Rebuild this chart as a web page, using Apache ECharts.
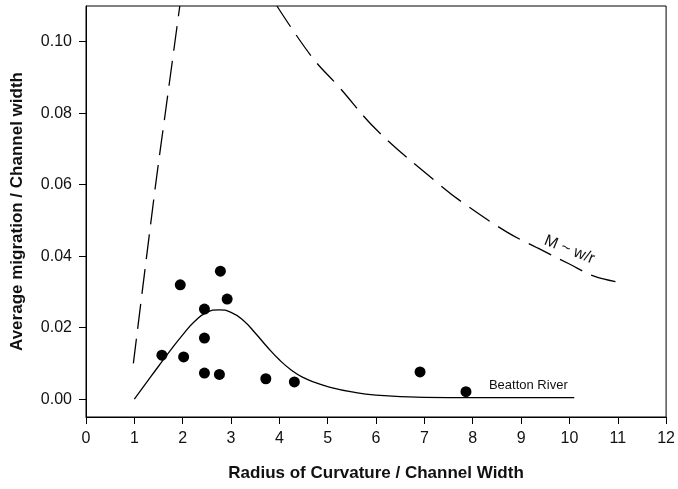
<!DOCTYPE html>
<html>
<head>
<meta charset="utf-8">
<script src="https://cdn.jsdelivr.net/npm/echarts@6/dist/echarts.min.js"></script>
<style>
  html, body { margin: 0; padding: 0; background: #fff; }
  #main { width: 678px; height: 489px; }
</style>
</head>
<body>
<div id="main"></div>
<script>
// observed points
var obsX = [1.57, 2.02, 1.95, 2.78, 2.45, 2.92, 2.45, 2.45, 2.76, 3.72, 4.31, 6.91, 7.86];
var obsY = [0.0123, 0.0118, 0.032, 0.0358, 0.0252, 0.028, 0.0171, 0.0073, 0.0069, 0.0057, 0.0048, 0.0076, 0.0021];

// Beatton River model curve
var beattonX = [1.0, 1.25, 1.5, 1.75, 2.0, 2.25, 2.5, 2.75, 3.0, 3.25, 3.5, 3.75, 4.0, 4.25, 4.5, 4.75, 5.0, 5.5, 6.0, 7.0, 8.0, 9.0, 10.1];
var beattonY = [0, 0.0046, 0.0092, 0.0137, 0.018, 0.0218, 0.0243, 0.025, 0.0243, 0.0221, 0.0185, 0.0146, 0.0110, 0.0081, 0.0060, 0.0046, 0.0035, 0.0020, 0.0011, 0.0005, 0.0004, 0.0004, 0.0004];

// left dashed line
var leftX = [0.98, 1.44, 1.64, 1.84, 1.94];
var leftY = [0.01, 0.06, 0.08, 0.10, 0.11];

// M ~ w/r dashed curve
var wrX = [3.95, 4.67, 5.23, 6.05, 7.28, 7.76, 8.7, 9.34, 10.0, 10.51, 10.99];
var wrY = [0.11, 0.0958, 0.0874, 0.0748, 0.0604, 0.0553, 0.0468, 0.0423, 0.0378, 0.0344, 0.0328];

var xTicks = [0, 1, 2, 3, 4, 5, 6, 7, 8, 9, 10, 11, 12];
var yTicks = [0, 0.02, 0.04, 0.06, 0.08, 0.10];

function pairs(xs, ys) {
  return xs.map(function (x, i) { return [x, ys[i]]; });
}

var font = "'Liberation Sans', Arial, sans-serif";
var myChart = echarts.init(document.getElementById("main"));

myChart.setOption({
  animation: false,
  textStyle: { fontFamily: font },
  grid: {
    left: 86, right: 8, top: 6, bottom: 72,
    show: true, borderColor: "#000", borderWidth: 1
  },
  xAxis: {
    type: "value",
    min: 0, max: 12, interval: 1,
    name: "Radius of Curvature / Channel Width",
    nameLocation: "middle",
    nameGap: 48,
    nameTextStyle: { fontSize: 17, fontWeight: "bold", color: "#111", fontFamily: font },
    axisLine: { onZero: false, lineStyle: { color: "#000", width: 1 } },
    axisTick: { show: true, length: 7, lineStyle: { color: "#000" }, customValues: xTicks },
    axisLabel: { fontSize: 16, color: "#111", margin: 14, customValues: xTicks, fontFamily: font },
    splitLine: { show: false }
  },
  yAxis: {
    type: "value",
    min: -0.005, max: 0.11,
    name: "Average migration / Channel width",
    nameLocation: "middle",
    nameGap: 60,
    nameTextStyle: { fontSize: 17, fontWeight: "bold", color: "#111", fontFamily: font },
    axisLine: { show: true, onZero: false, lineStyle: { color: "#000", width: 1 } },
    axisTick: { show: true, length: 7, lineStyle: { color: "#000" }, customValues: yTicks },
    axisLabel: {
      fontSize: 16, color: "#111", margin: 14, customValues: yTicks, fontFamily: font,
      formatter: function (v) { return v.toFixed(2); }
    },
    splitLine: { show: false }
  },
  series: [
    {
      name: "left",
      type: "line",
      data: pairs(leftX, leftY),
      showSymbol: false,
      smooth: 0.3,
      lineStyle: { color: "#000", width: 1.3, type: [25, 10] }
    },
    {
      name: "wr",
      type: "line",
      data: pairs(wrX, wrY),
      showSymbol: false,
      smooth: 0.4,
      lineStyle: { color: "#000", width: 1.3, type: [25, 10] },
      markPoint: {
        symbol: "circle", symbolSize: 0,
        data: [{ coord: [10.0, 0.0418] }],
        label: {
          show: true, position: "inside", formatter: "M ~ w/r",
          rotate: -22, fontSize: 16, color: "#111", fontFamily: font
        }
      }
    },
    {
      name: "Beatton River",
      type: "line",
      data: pairs(beattonX, beattonY),
      showSymbol: false,
      smooth: 0.5,
      lineStyle: { color: "#000", width: 1.3 },
      markPoint: {
        symbol: "circle", symbolSize: 0,
        data: [{ coord: [9.15, 0.0038] }],
        label: {
          show: true, position: "inside", formatter: "Beatton River",
          fontSize: 13, color: "#111", fontFamily: font
        }
      }
    },
    {
      name: "observed",
      type: "scatter",
      data: pairs(obsX, obsY),
      symbolSize: 11,
      itemStyle: { color: "#000", opacity: 1 }
    }
  ]
});
</script>
</body>
</html>
